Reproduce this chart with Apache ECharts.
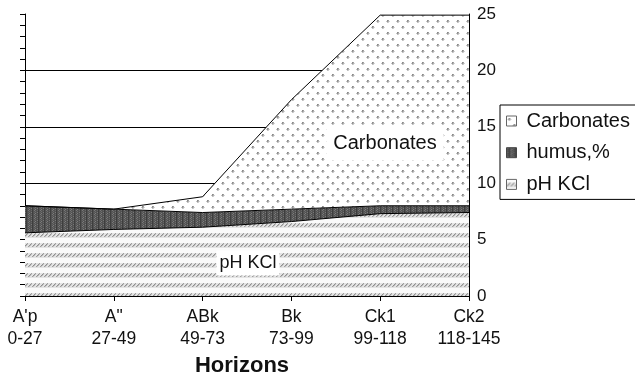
<!DOCTYPE html>
<html>
<head>
<meta charset="utf-8">
<script src="https://cdn.jsdelivr.net/npm/echarts@6/dist/echarts.min.js"></script>
<style>
  html, body { margin: 0; padding: 0; background: #fff; }
  #chart { width: 635px; height: 375px; }
</style>
</head>
<body>
<div id="chart"></div>
<script>
// Soil horizons and depth ranges (cm)
const horizons = ["A'p\n0-27", 'A"\n27-49', 'ABk\n49-73', 'Bk\n73-99', 'Ck1\n99-118', 'Ck2\n118-145'];
// Stacked layers, bottom to top
const phKCl = [5.6, 5.9, 6.1, 6.6, 7.3, 7.4];
const humus = [2.4, 1.8, 1.3, 1.1, 0.7, 0.6];
const carbonates = [0, 0, 1.4, 9.7, 16.9, 16.9];
// Right-hand axis labels
const yTicks = [0, 5, 10, 15, 20, 25];

const FONT = '"Liberation Sans", Arial, sans-serif';

// Small canvas tiles used as fill patterns
function tile(w, h, draw) {
  const c = document.createElement('canvas');
  c.width = w; c.height = h;
  const g = c.getContext('2d');
  draw(g);
  return { image: c, repeat: 'repeat' };
}
function px(g, x, y, color) { g.fillStyle = color; g.fillRect(x, y, 1, 1); }

const dotFill = tile(10, 12, g => {
  g.fillStyle = '#ffffff'; g.fillRect(0, 0, 10, 12);
  [[2, 2], [7, 8]].forEach(([x, y]) => {
    px(g, x, y, '#8a8a8a'); px(g, x + 1, y, '#a0a0a0');
    px(g, x, y + 1, '#959595'); px(g, x + 1, y + 1, '#b5b5b5');
    px(g, x - 1, y + 1, '#c4c4c4'); px(g, x, y + 2, '#c0c0c0');
    px(g, x + 2, y + 1, '#d4d4d4'); px(g, x + 1, y + 2, '#d0d0d0');
  });
});

const hatchFill = tile(4, 10, g => {
  g.fillStyle = '#fafafa'; g.fillRect(0, 0, 4, 10);
  g.fillStyle = '#e4e4e4'; g.fillRect(0, 3, 4, 5);
  px(g, 3, 3, '#a0a0a0'); px(g, 2, 4, '#909090');
  px(g, 1, 5, '#909090'); px(g, 0, 6, '#a0a0a0');
  px(g, 3, 4, '#c4c4c4'); px(g, 2, 5, '#b8b8b8'); px(g, 1, 6, '#c4c4c4');
});

const darkFill = tile(6, 4, g => {
  g.fillStyle = '#525252'; g.fillRect(0, 0, 6, 4);
  px(g, 1, 0, '#787878'); px(g, 4, 2, '#787878');
  px(g, 1, 2, '#666666'); px(g, 4, 0, '#666666');
  g.fillStyle = '#3e3e3e'; g.fillRect(2, 0, 1, 4);
  px(g, 5, 1, '#7e7e7e'); px(g, 5, 3, '#6e6e6e');
});

const chart = echarts.init(document.getElementById('chart'), null, { renderer: 'canvas' });

function layer(name, values, fill) {
  return {
    name: name,
    type: 'line',
    stack: 'soil',
    data: values,
    symbol: 'none',
    lineStyle: { color: '#000', width: 1 },
    itemStyle: { color: '#666' },
    areaStyle: { color: fill, opacity: 1 },
    emphasis: { disabled: true },
    silent: true,
    animation: false
  };
}

chart.setOption({
  animation: false,
  backgroundColor: '#ffffff',
  grid: { left: 25, right: 166, top: 14, bottom: 79, containLabel: false, outerBoundsMode: 'none' },
  legend: {
    orient: 'vertical',
    left: 500,
    top: 105,
    padding: [6, 40, 5, 6],
    itemGap: 11.7,
    itemWidth: 10,
    itemHeight: 10,
    icon: 'rect',
    itemStyle: { borderColor: '#555', borderWidth: 1 },
    borderColor: '#000',
    borderWidth: 1,
    textStyle: { fontFamily: FONT, fontSize: 20, color: '#111', lineHeight: 20, padding: [0, 0, 0, 5] },
    data: [
      { name: 'Carbonates', itemStyle: { color: dotFill, borderColor: '#666', borderWidth: 1 } },
      { name: 'humus,%', itemStyle: { color: darkFill, borderColor: '#444', borderWidth: 1 } },
      { name: 'pH KCl', itemStyle: { color: hatchFill, borderColor: '#666', borderWidth: 1 } }
    ]
  },
  xAxis: {
    type: 'category',
    data: horizons,
    boundaryGap: false,
    axisLine: { lineStyle: { color: '#000', width: 1 } },
    axisTick: { show: true, length: 5, lineStyle: { color: '#000' } },
    axisLabel: { fontFamily: FONT, fontSize: 17.5, color: '#111', lineHeight: 22, margin: 10 },
    splitLine: { show: false },
    name: 'Horizons',
    nameLocation: 'middle',
    nameGap: 42,
    nameTextStyle: { fontFamily: FONT, fontSize: 22, fontWeight: 'bold', color: '#111', padding: [0, 10, 0, 0] }
  },
  yAxis: [
    {
      type: 'value',
      position: 'left',
      min: 0, max: 25, interval: 1,
      axisLine: { show: true, lineStyle: { color: '#000', width: 1 } },
      axisTick: { show: true, length: 5, lineStyle: { color: '#000' } },
      axisLabel: { show: false },
      splitLine: { show: false }
    },
    {
      type: 'value',
      position: 'right',
      min: yTicks[0], max: yTicks[yTicks.length - 1], interval: 5,
      axisLine: { show: true, lineStyle: { color: '#000', width: 1 } },
      axisTick: { show: false },
      axisLabel: { fontFamily: FONT, fontSize: 17, color: '#111', margin: 8 },
      splitLine: { show: true, showMinLine: false, showMaxLine: false, lineStyle: { color: '#000', width: 1 } }
    }
  ],
  series: [
    layer('pH KCl', phKCl, hatchFill),
    layer('humus,%', humus, darkFill),
    layer('Carbonates', carbonates, dotFill)
  ],
  graphic: [
    {
      type: 'text', x: 385, y: 143, z: 100,
      style: {
        text: 'Carbonates', font: '20px ' + FONT, fill: '#111',
        align: 'center', verticalAlign: 'middle',
        backgroundColor: '#fff', padding: [8, 7, 7, 7]
      }
    },
    {
      type: 'text', x: 248, y: 263, z: 100,
      style: {
        text: 'pH KCl', font: '18px ' + FONT, fill: '#111',
        align: 'center', verticalAlign: 'middle',
        backgroundColor: '#fff', padding: [4, 3, 3, 3]
      }
    }
  ]
});
</script>
</body>
</html>
